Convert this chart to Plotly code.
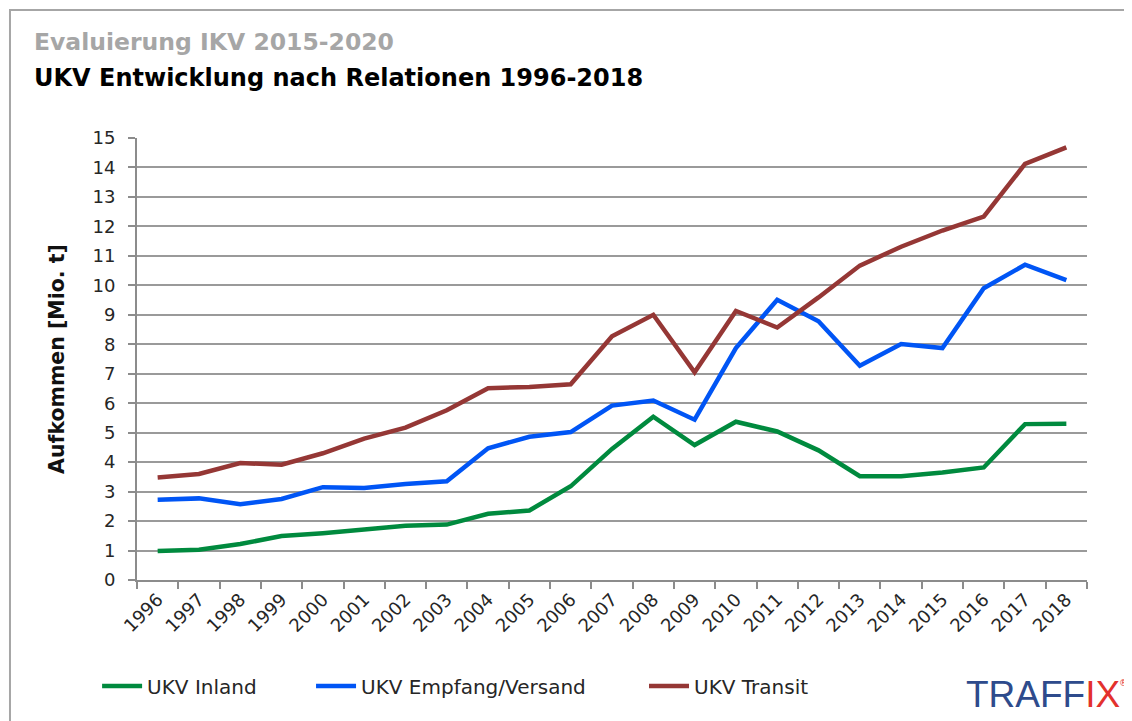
import plotly.graph_objects as go

years = [str(y) for y in range(1996, 2019)]
inland = [0.98, 1.03, 1.22, 1.49, 1.59, 1.72, 1.84, 1.88, 2.25, 2.36, 3.18, 4.45, 5.54, 4.58, 5.37, 5.04, 4.40, 3.52, 3.52, 3.65, 3.82, 5.29, 5.30]
empfang = [2.72, 2.77, 2.57, 2.75, 3.15, 3.12, 3.26, 3.35, 4.47, 4.86, 5.02, 5.92, 6.09, 5.44, 7.87, 9.51, 8.78, 7.27, 8.01, 7.87, 9.90, 10.70, 10.18]
transit = [3.48, 3.60, 3.97, 3.91, 4.30, 4.80, 5.17, 5.76, 6.51, 6.55, 6.64, 8.27, 9.00, 7.05, 9.13, 8.57, 9.59, 10.67, 11.31, 11.86, 12.33, 14.12, 14.68]

series_names = ["UKV Inland", "UKV Empfang/Versand", "UKV Transit"]
series_vals = [inland, empfang, transit]
colors = ["#008A3E", "#0055F5", "#953735"]
legend_ids = ["legend", "legend2", "legend3"]
legend_x = [-0.042, 0.1832, 0.5337]

FONT = "DejaVu Sans"
TXT = "#262626"

fig = go.Figure()
for name, vals, c, lid in zip(series_names, series_vals, colors, legend_ids):
    fig.add_trace(go.Scatter(x=years, y=vals, mode="lines", name=name, legend=lid,
                             line=dict(color=c, width=4.5)))

leg_common = dict(orientation="h", xanchor="left", y=-0.2398, yanchor="middle",
                  font=dict(size=20, family=FONT, color=TXT), itemwidth=40,
                  bgcolor="rgba(0,0,0,0)")

fig.update_layout(
    width=1124, height=713,
    margin=dict(l=129, r=45, t=130, b=141, autoexpand=False),
    paper_bgcolor="white", plot_bgcolor="white",
    font=dict(family=FONT, color=TXT),
    showlegend=True,
    legend=dict(x=legend_x[0], **leg_common),
    legend2=dict(x=legend_x[1], **leg_common),
    legend3=dict(x=legend_x[2], **leg_common),
    xaxis=dict(type="category", showgrid=False, showline=True, linecolor="#8c8c8c", linewidth=2,
               ticks="outside", tickson="boundaries", ticklen=7, tickcolor="#8c8c8c", tickwidth=2,
               tickangle=-45, tickfont=dict(size=18, family=FONT, color=TXT),
               range=[-0.5, 22.5], automargin=False),
    yaxis=dict(range=[0, 15], dtick=1, showgrid=True, gridcolor="#9a9a9a", gridwidth=2,
               showline=True, linecolor="#8c8c8c", linewidth=2, zeroline=False,
               ticks="outside", ticklen=7, tickcolor="#8c8c8c", tickwidth=2,
               ticklabelstandoff=9, automargin=False,
               tickfont=dict(size=18, family=FONT, color=TXT),
               title=dict(text="<b>Aufkommen [Mio. t]</b>", font=dict(size=20.5, family=FONT, color="#111111"),
                          standoff=22)),
)

fig.add_annotation(xref="paper", yref="paper", x=-0.1105, y=1.217, xanchor="left", yanchor="middle",
                   text="<b>Evaluierung IKV 2015-2020</b>", showarrow=False,
                   font=dict(size=23.5, family=FONT, color="#a6a6a6"))
fig.add_annotation(xref="paper", yref="paper", x=-0.1105, y=1.136, xanchor="left", yanchor="middle",
                   text="<b>UKV Entwicklung nach Relationen 1996-2018</b>", showarrow=False,
                   font=dict(size=24, family=FONT, color="#000000"))
fig.add_annotation(xref="paper", yref="paper", x=(1043 - 137) / 950, y=(580 - 694) / 442,
                   xanchor="center", yanchor="middle",
                   text="<span style='color:#2E4B8C'>TRAFF</span><span style='color:#E3312D'>IX</span>",
                   showarrow=False, font=dict(size=37, family="Liberation Sans"))
fig.add_annotation(xref="paper", yref="paper", x=(1130 - 137) / 950, y=(580 - 683) / 442,
                   xanchor="right", yanchor="middle", text="®", showarrow=False,
                   font=dict(size=9, family="DejaVu Sans", color="#E3312D"))

fig.add_shape(type="rect", xref="paper", yref="paper", x0=-0.1337, y0=-0.4, x1=1.2, y1=1.2896,
              line=dict(color="#a6a6a6", width=2), layer="below")

fig.write_html("out.html")
